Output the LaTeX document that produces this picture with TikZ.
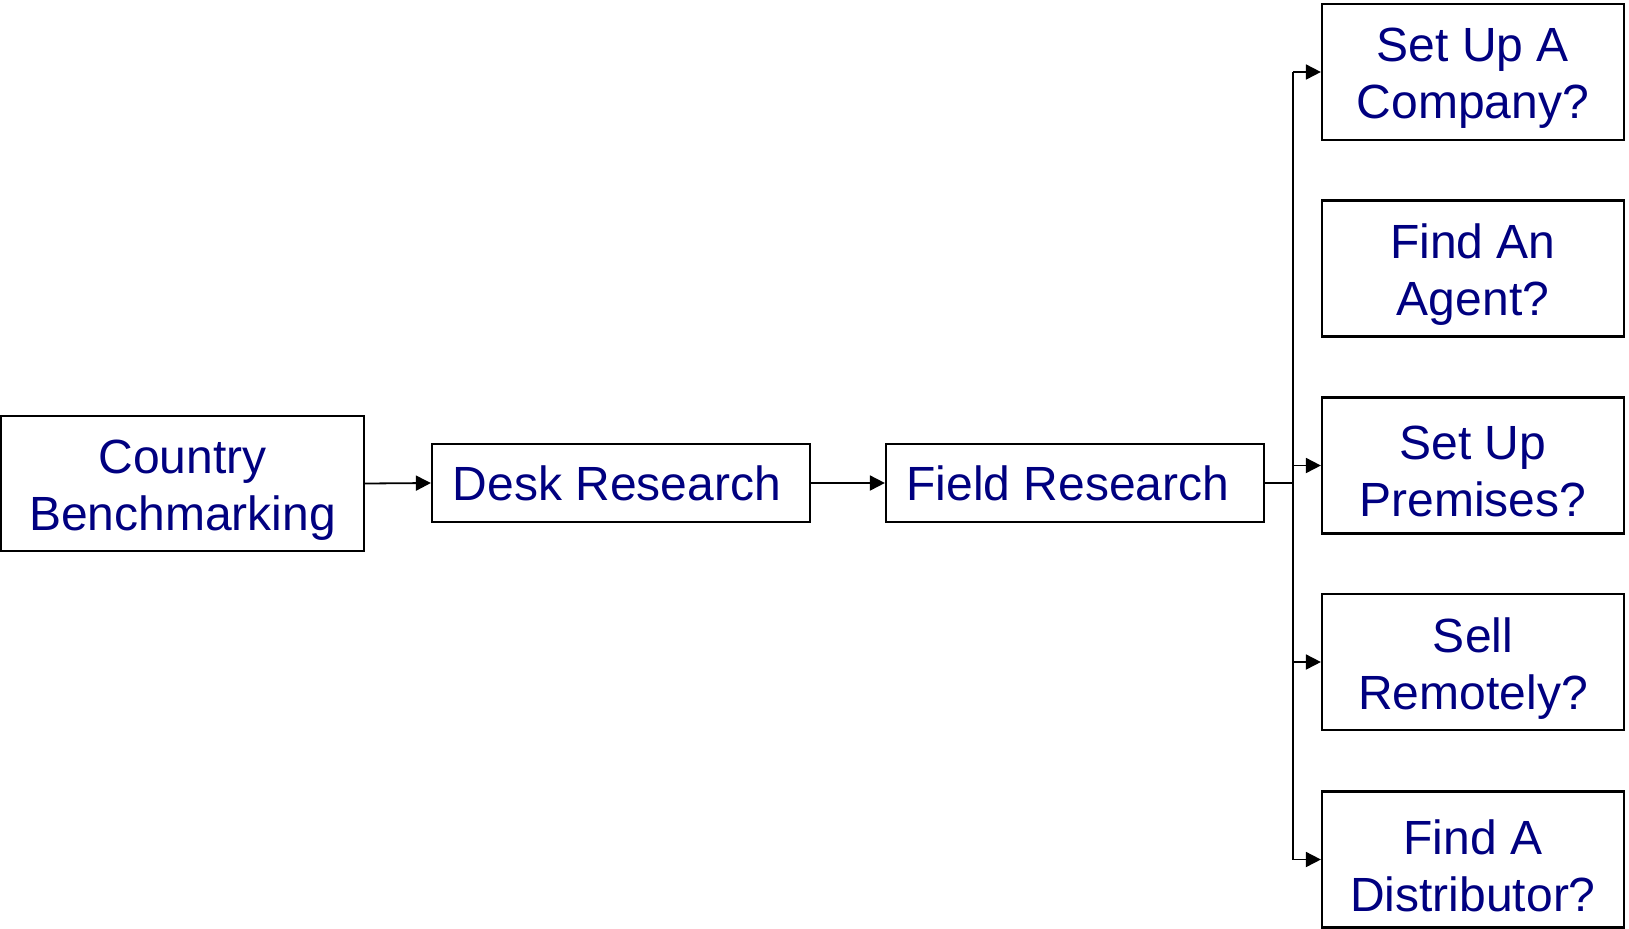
\documentclass[tikz,border=0pt]{standalone}
\usepackage{fontspec}
\setmainfont{Liberation Sans}
\usetikzlibrary{arrows.meta}
\definecolor{navytext}{RGB}{0,0,128}
\begin{document}
\begin{tikzpicture}[x=0.5pt,y=-0.5pt,
  txt/.style={align=center,text=navytext,font=\fontsize{24pt}{28.5pt}\selectfont},
  box/.style={draw=black,line width=1.1pt,fill=white,inner sep=0pt,txt},
  two/.style={box,label={[txt,yshift=-3.2pt]center:#1}},
  conn/.style={line width=0.9pt,draw=black},
  arr/.style={conn,-{Triangle[length=7.5pt,width=7.5pt]}}]
\useasboundingbox (0,0) rectangle (1629,928);
\node[two={Country\\Benchmarking},minimum width=181.5pt,minimum height=67.5pt] (cb) at (182.5,483.5) {};
\node[box,minimum width=189pt,minimum height=39pt,label={[txt,xshift=-2pt]center:Desk Research}] (dr) at (621,483) {};
\node[box,minimum width=189pt,minimum height=39pt,label={[txt,xshift=-3.5pt]center:Field Research}] (fr) at (1075,483) {};
\node[two={Set Up A\\Company?},minimum width=151pt,minimum height=68pt] (c1) at (1473,72) {};
\node[two={Find An\\Agent?},minimum width=151pt,minimum height=68pt] (c2) at (1473,268.5) {};
\node[two={Set Up\\Premises?},minimum width=151pt,minimum height=68pt] (c3) at (1473,465.5) {};
\node[two={Sell\\Remotely?},minimum width=151pt,minimum height=68pt] (c4) at (1473,662) {};
\node[two={Find A\\Distributor?},minimum width=151pt,minimum height=68pt] (c5) at (1473,859.5) {};
\coordinate (top) at (1293,72);
\coordinate (bot) at (1293,859.5);
\coordinate (jn) at (1293,483);
\draw[arr] (cb.east) -- (dr.west);
\draw[arr] (dr.east) -- (fr.west);
\draw[conn] (fr.east) -- (jn);
\draw[conn] (top) -- (bot);
\draw[arr] (top) -- (c1.west);
\draw[arr] (jn |- c3.west) -- (c3.west);
\draw[arr] (jn |- c4.west) -- (c4.west);
\draw[arr] (bot) -- (c5.west);
\end{tikzpicture}
\end{document}
